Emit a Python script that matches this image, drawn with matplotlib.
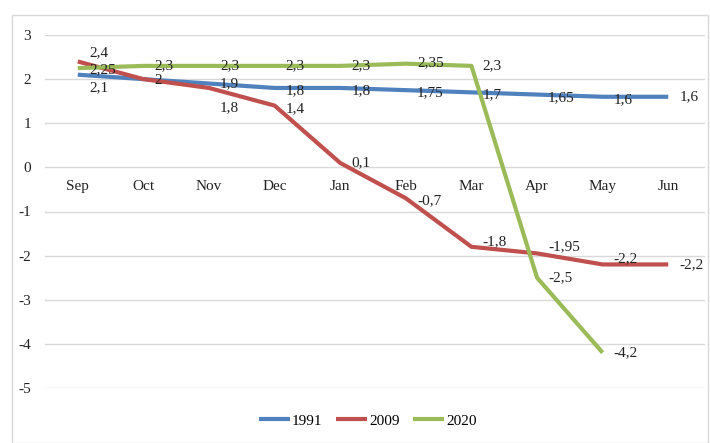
import matplotlib.pyplot as plt
from matplotlib.patches import Rectangle

plt.rcParams['font.family'] = ['Liberation Serif', 'DejaVu Serif']
plt.rcParams['axes.unicode_minus'] = False

months = ['Sep', 'Oct', 'Nov', 'Dec', 'Jan', 'Feb', 'Mar', 'Apr', 'May', 'Jun']
y1991 = [2.1, 2.0, 1.9, 1.8, 1.8, 1.75, 1.7, 1.65, 1.6, 1.6]
y2009 = [2.4, 2.0, 1.8, 1.4, 0.1, -0.7, -1.8, -1.95, -2.2, -2.2]
y2020 = [2.25, 2.3, 2.3, 2.3, 2.3, 2.35, 2.3, -2.5, -4.2]

# label offsets in points (dx, dy) per point
off1991 = [(8, -9), None, (8, 0), (8, -2), (8, -2), (8, -2), (8, -2), (8, -2), (8, -2), (8, 0)]
off2009 = [(8, 6), (8, -1), (8, -14), (8, -2), (8, 0), (8, -2), (8, 4), (8, 5), (8, 4), (8, 0)]
off2020 = [(8, -1), (8, 0), (8, 0), (8, 0), (8, 0), (8, 1), (8, 0), (8, 0), (8, 0)]

colors = {'1991': '#4f81bd', '2009': '#c0504d', '2020': '#9bbb59'}


def fmt(v):
    s = ('%g' % v).replace('.', ',')
    return s


fig = plt.figure(figsize=(7.1, 4.43), dpi=100)
fig.patches.append(Rectangle((12 / 710, 0), 696 / 710, 428 / 443, transform=fig.transFigure,
                             fill=False, edgecolor='#d9d9d9', linewidth=1))
ax = fig.add_axes([45 / 710, 55 / 443, 660 / 710, 353 / 443])

x = list(range(len(months)))
series = [('1991', y1991, off1991), ('2009', y2009, off2009), ('2020', y2020, off2020)]
for name, ys, offs in series:
    xs = x[:len(ys)]
    ax.plot(xs, ys, color=colors[name], lw=3, label=name, solid_capstyle='butt', zorder=3)
    for xi, yi, o in zip(xs, ys, offs):
        if o is None:
            continue
        ax.annotate(fmt(yi), (xi, yi), xytext=o, textcoords='offset points',
                    ha='left', va='center', fontsize=11, color='#222222', zorder=4)

ax.set_xlim(-0.5, 9.56)
ax.set_ylim(-5, 3)
ax.set_yticks(range(-5, 4))
ax.set_xticks(x)
ax.set_xticklabels(months)
ax.grid(axis='y', color='#d9d9d9', lw=1)
ax.set_axisbelow(True)
for s in ['top', 'right', 'left']:
    ax.spines[s].set_visible(False)
ax.spines['bottom'].set_position(('data', 0))
ax.spines['bottom'].set_visible(False)
ax.tick_params(axis='both', length=0, labelsize=11, colors='#222222')
ax.tick_params(axis='x', pad=9)
ax.tick_params(axis='y', pad=10)

fig.legend(loc='center', bbox_to_anchor=(0.518, 0.05), ncol=3, frameon=False,
           fontsize=11, handlelength=2.0, handletextpad=0.15, columnspacing=0.9)

fig.savefig('out.png', dpi=100)
